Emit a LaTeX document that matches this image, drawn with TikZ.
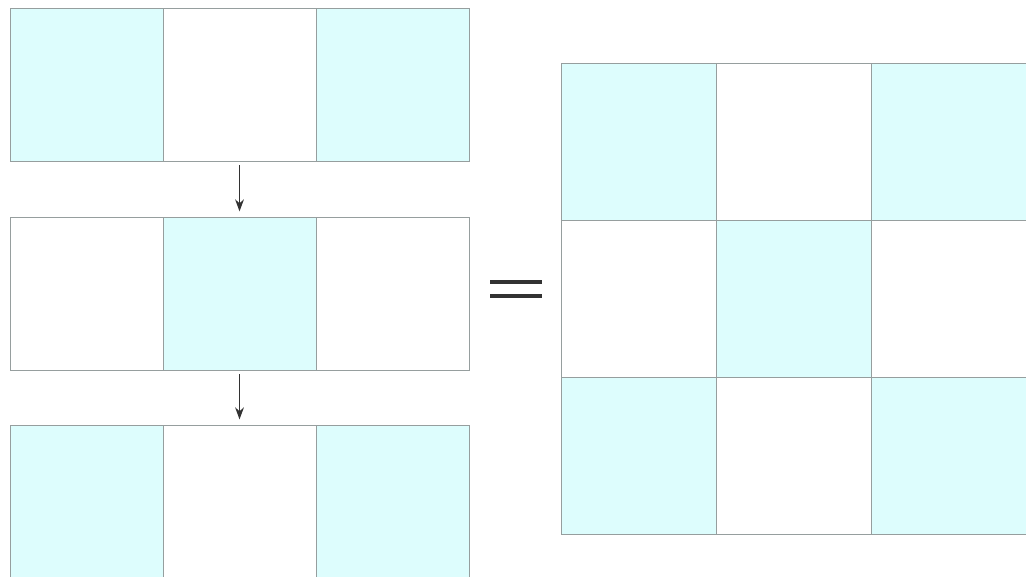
\documentclass[tikz,border=0pt]{standalone}
\usetikzlibrary{positioning,arrows.meta}
\definecolor{cellcyan}{RGB}{221,253,253}
\definecolor{gridgray}{RGB}{150,158,158}
\definecolor{arrowgray}{RGB}{50,50,50}

\begin{document}
\begin{tikzpicture}[x=0.025cm, y=-0.025cm,
  cl/.style={draw=gridgray, line width=0.6pt, inner sep=0pt, outer sep=0pt, anchor=north west, minimum width=3.825cm, minimum height=3.825cm},
  cr/.style={cl, minimum width=3.875cm, minimum height=3.925cm},
  arr/.style={-{Stealth[length=3mm, width=2.2mm]}, draw=arrowgray, line width=0.8pt, shorten <=3pt, shorten >=4pt},
  eq/.style={draw=arrowgray, line width=2.8pt}
]
\useasboundingbox (0,0) rectangle (1026,577);
% left: three rows of three cells
\foreach \r/\y/\fa/\fb in {1/8/cellcyan/white, 2/217/white/cellcyan, 3/425/cellcyan/white}
 \foreach \c/\x/\f in {1/10/\fa, 2/163/\fb, 3/316/\fa}
  \node[cl, fill=\f] (l\r\c) at (\x,\y) {};
\draw[arr] (l12.south) -- (l22.north);
\draw[arr] (l22.south) -- (l32.north);
% equals sign
\draw[eq] (490,282) -- (542,282);
\draw[eq] (490,296) -- (542,296);
% right: 3x3 grid
\foreach \r/\y/\fa/\fb in {1/63/cellcyan/white, 2/220/white/cellcyan, 3/377/cellcyan/white}
 \foreach \c/\x/\f in {1/561/\fa, 2/716/\fb, 3/871/\fa}
  \node[cr, fill=\f] (g\r\c) at (\x,\y) {};
\end{tikzpicture}
\end{document}
